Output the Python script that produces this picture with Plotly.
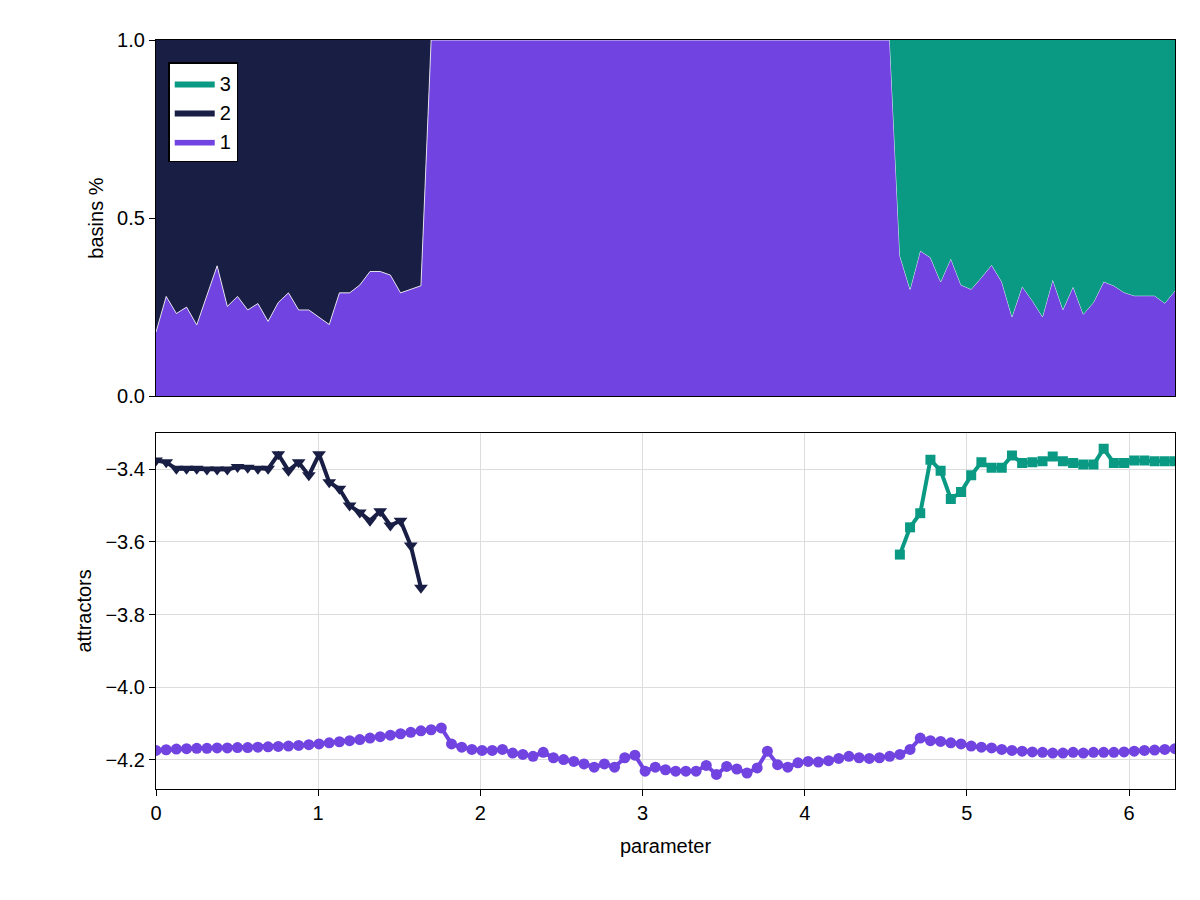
import numpy as np
import plotly.graph_objects as go
from plotly.subplots import make_subplots

# parameter grid: 101 points over [0, 2pi]
param = np.linspace(0, 2 * np.pi, 101)

# fraction of basin 1
basin1 = ([0.18, 0.28, 0.232, 0.25, 0.20, 0.285, 0.366, 0.252, 0.28, 0.242,
           0.26, 0.21, 0.263, 0.29, 0.242, 0.242, 0.221, 0.201, 0.29, 0.29,
           0.312, 0.35, 0.35, 0.34, 0.29, 0.30, 0.31]
          + [1.0] * 46
          + [0.394, 0.30, 0.408, 0.389, 0.321, 0.386, 0.312, 0.30, 0.333, 0.368,
             0.321, 0.223, 0.308, 0.268, 0.223, 0.327, 0.243, 0.307, 0.23, 0.263,
             0.321, 0.31, 0.291, 0.282, 0.282, 0.282, 0.261, 0.296])
basin2 = [1 - v if i <= 26 else 0.0 for i, v in enumerate(basin1)]
basin3 = [1 - v if i >= 73 else 0.0 for i, v in enumerate(basin1)]

# attractor values
attr1 = [-4.174, -4.172, -4.170, -4.169, -4.168, -4.168, -4.167, -4.167, -4.166, -4.166,
         -4.165, -4.164, -4.163, -4.162, -4.160, -4.158, -4.156, -4.153, -4.150, -4.147,
         -4.144, -4.140, -4.136, -4.132, -4.128, -4.124, -4.120, -4.117, -4.112,
         -4.156, -4.165, -4.171, -4.174, -4.174, -4.171, -4.181, -4.185, -4.190, -4.179,
         -4.194, -4.199, -4.204, -4.211, -4.220, -4.211, -4.220, -4.194, -4.187, -4.231,
         -4.220, -4.227, -4.231, -4.231, -4.231, -4.215, -4.240, -4.218, -4.225, -4.236,
         -4.222, -4.176, -4.213, -4.220, -4.208, -4.204, -4.206, -4.202, -4.196, -4.190,
         -4.194, -4.196, -4.194, -4.190, -4.185, -4.171, -4.140, -4.147, -4.149, -4.153,
         -4.156, -4.162, -4.165, -4.167, -4.171, -4.174, -4.176, -4.178, -4.179, -4.181,
         -4.181, -4.179, -4.181, -4.179, -4.179, -4.179, -4.178, -4.176, -4.174, -4.173,
         -4.171, -4.169]
attr2 = [-3.376, -3.381, -3.399, -3.399, -3.399, -3.401, -3.401, -3.401, -3.394, -3.396,
         -3.399, -3.399, -3.359, -3.404, -3.381, -3.417, -3.359, -3.436, -3.454, -3.500,
         -3.519, -3.542, -3.516, -3.555, -3.542, -3.610, -3.726]
attr3 = [-3.635, -3.560, -3.521, -3.374, -3.404, -3.482, -3.463, -3.417, -3.381, -3.396,
         -3.396, -3.362, -3.383, -3.381, -3.378, -3.365, -3.378, -3.383, -3.387, -3.387,
         -3.344, -3.383, -3.383, -3.376, -3.376, -3.378, -3.378, -3.378]

PURPLE = '#7143E0'
NAVY = '#191E44'
GREEN = '#0A9A84'

fig = make_subplots(rows=2, cols=1, shared_xaxes=True, vertical_spacing=0.049)

# stacked basin fractions
fig.add_trace(go.Scatter(x=param, y=basin1, stackgroup='b', name='1', fillcolor=PURPLE,
                         line=dict(color='white', width=0.8)), row=1, col=1)
fig.add_trace(go.Scatter(x=param, y=basin2, stackgroup='b', name='2', fillcolor=NAVY,
                         line=dict(color=NAVY, width=0)), row=1, col=1)
fig.add_trace(go.Scatter(x=param, y=basin3, stackgroup='b', name='3', fillcolor=GREEN,
                         line=dict(color=GREEN, width=0)), row=1, col=1)

# attractors
fig.add_trace(go.Scatter(x=param, y=attr1, mode='lines+markers', showlegend=False,
                         line=dict(color=PURPLE, width=4),
                         marker=dict(symbol='circle', size=11, color=PURPLE)), row=2, col=1)
fig.add_trace(go.Scatter(x=param[:27], y=attr2, mode='lines+markers', showlegend=False,
                         line=dict(color=NAVY, width=4),
                         marker=dict(symbol='triangle-down', size=12, color=NAVY)), row=2, col=1)
fig.add_trace(go.Scatter(x=param[73:], y=attr3, mode='lines+markers', showlegend=False,
                         line=dict(color=GREEN, width=4),
                         marker=dict(symbol='square', size=10, color=GREEN)), row=2, col=1)

axis_style = dict(showline=True, linecolor='black', linewidth=1.2, mirror=True,
                  ticks='outside', ticklen=6, tickcolor='black', zeroline=False,
                  tickfont=dict(size=20, color='black'))

fig.update_xaxes(range=[0, 2 * np.pi], **axis_style)
fig.update_xaxes(showgrid=False, showticklabels=False, ticks='', row=1, col=1)
fig.update_xaxes(tickvals=[0, 1, 2, 3, 4, 5, 6], showgrid=True, gridcolor='#DDDDDD',
                 title_text='parameter', title_font=dict(size=20), row=2, col=1)

fig.update_yaxes(**axis_style)
fig.update_yaxes(range=[0, 1], tickvals=[0, 0.5, 1], tickformat='.1f', showgrid=False,
                 title_text='basins %', title_font=dict(size=20), title_standoff=8,
                 row=1, col=1)
fig.update_yaxes(range=[-4.28, -3.30], tickvals=[-4.2, -4.0, -3.8, -3.6, -3.4],
                 tickformat='.1f', showgrid=True, gridcolor='#DDDDDD',
                 title_text='attractors', title_font=dict(size=20), title_standoff=8,
                 row=2, col=1)

fig.update_layout(
    width=1200, height=900,
    margin=dict(l=148, r=33, t=32, b=119),
    plot_bgcolor='white', paper_bgcolor='white',
    font=dict(family='Liberation Sans, Arial, sans-serif', size=20, color='black'),
    legend=dict(x=0.012, y=0.97, xanchor='left', yanchor='top',
                bgcolor='white', bordercolor='black', borderwidth=1.5,
                font=dict(size=20), itemwidth=40, tracegroupgap=4),
)

fig.write_html("out.html")
